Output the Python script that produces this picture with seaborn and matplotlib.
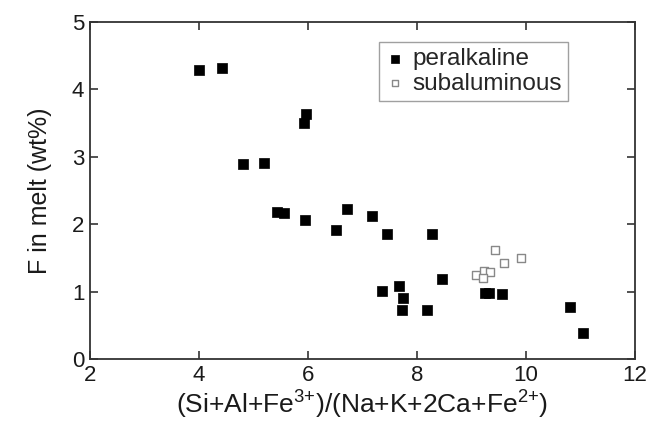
import pandas as pd
import matplotlib.pyplot as plt
import seaborn as sns

# peralkaline melts (filled squares)
per_x = [4.00, 4.43, 5.96, 5.93, 4.81, 5.20, 5.44, 5.56, 5.95, 6.72, 6.51, 7.17,
         7.45, 8.28, 8.47, 7.36, 7.67, 7.75, 7.73, 8.18, 9.25, 9.32, 9.56, 10.81, 11.05]
per_y = [4.29, 4.31, 3.64, 3.50, 2.90, 2.91, 2.18, 2.16, 2.07, 2.22, 1.92, 2.12,
         1.85, 1.86, 1.19, 1.01, 1.08, 0.90, 0.73, 0.73, 0.98, 0.98, 0.96, 0.78, 0.39]

# subaluminous melts (open squares)
sub_x = [9.43, 9.60, 9.91, 9.08, 9.23, 9.35, 9.22]
sub_y = [1.62, 1.43, 1.50, 1.25, 1.31, 1.29, 1.21]

per = pd.DataFrame({'ratio': per_x, 'F': per_y})
sub = pd.DataFrame({'ratio': sub_x, 'F': sub_y})

sns.set_style('ticks')
plt.rcParams['font.family'] = ['Liberation Sans', 'DejaVu Sans']
plt.rcParams['mathtext.default'] = 'regular'

fig, ax = plt.subplots(figsize=(6.51, 4.21), dpi=100)
fig.subplots_adjust(left=0.138, right=0.975, top=0.948, bottom=0.147)

sns.scatterplot(data=per, x='ratio', y='F', marker='s', s=55, color='black',
                edgecolor='black', linewidth=0.5, label='peralkaline', ax=ax)
sns.scatterplot(data=sub, x='ratio', y='F', marker='s', s=40, facecolor='white',
                edgecolor='#888888', linewidth=1.0, label='subaluminous', ax=ax)

ax.set_xlim(2, 12)
ax.set_ylim(0, 5)
ax.set_xticks([2, 4, 6, 8, 10, 12])
ax.set_yticks([0, 1, 2, 3, 4, 5])
ax.tick_params(direction='in', length=6, width=1.2, labelsize=16, top=True, right=True,
               colors='#333333', labelcolor='#1a1a1a', pad=4)
for sp in ax.spines.values():
    sp.set_linewidth(1.3)
    sp.set_color('#333333')

ax.set_xlabel(r'(Si+Al+Fe$^{3{+}}$)/(Na+K+2Ca+Fe$^{2{+}}$)', fontsize=19, labelpad=2,
              color='#1a1a1a')
ax.set_ylabel('F in melt (wt%)', fontsize=18, labelpad=14, color='#1a1a1a')

leg = ax.legend(loc='upper right', bbox_to_anchor=(0.877, 0.94), fontsize=17.5,
                frameon=True, fancybox=False, handletextpad=0.3, borderpad=0.25,
                labelspacing=0.1, handlelength=0.8, markerscale=0.7,
                borderaxespad=0)
leg.get_frame().set_edgecolor('#888888')
leg.get_frame().set_linewidth(1.0)

fig.savefig('out.png', dpi=100)
